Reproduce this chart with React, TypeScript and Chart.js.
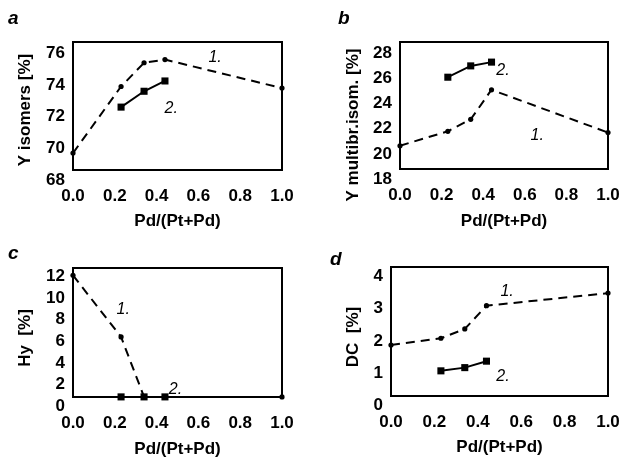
import React, { useEffect, useRef } from "react";
import { Chart, registerables } from "chart.js";

Chart.register(...registerables);

const FONT = "'Liberation Sans', Arial, Helvetica, sans-serif";

// shared x axis
const X_TICKS = [0, 0.2, 0.4, 0.6, 0.8, 1.0];
const X_TITLE = "Pd/(Pt+Pd)";

// panel a
const A_X1 = [0, 0.23, 0.34, 0.44, 1.0];
const A_Y1 = [69.7, 73.9, 75.4, 75.6, 73.8];
const A_X2 = [0.23, 0.34, 0.44];
const A_Y2 = [72.6, 73.6, 74.25];
const A_YTICKS = [68, 70, 72, 74, 76];
const A_YTITLE = "Y isomers [%]";
const A_LABELS = [
  { text: "1.", x: 0.68, y: 75.7 },
  { text: "2.", x: 0.47, y: 72.5 },
];

// panel b
const B_X1 = [0, 0.23, 0.34, 0.44, 1.0];
const B_Y1 = [20.65, 21.8, 22.75, 25.1, 21.7];
const B_X2 = [0.23, 0.34, 0.44];
const B_Y2 = [26.1, 27.0, 27.3];
const B_YTICKS = [18, 20, 22, 24, 26, 28];
const B_YTITLE = "Y multibr.isom. [%]";
const B_LABELS = [
  { text: "2.", x: 0.495, y: 26.6 },
  { text: "1.", x: 0.66, y: 21.5 },
];

// panel c
const C_X1 = [0, 0.23, 0.34, 1.0];
const C_Y1 = [12.1, 6.4, 0.85, 0.85];
const C_X2 = [0.23, 0.34, 0.44];
const C_Y2 = [0.85, 0.85, 0.85];
const C_YTICKS = [0, 2, 4, 6, 8, 10, 12];
const C_YTITLE = "Hy  [%]";
const C_LABELS = [
  { text: "1.", x: 0.24, y: 8.9 },
  { text: "2.", x: 0.49, y: 1.5 },
];

// panel d
const D_X1 = [0, 0.23, 0.34, 0.44, 1.0];
const D_Y1 = [1.87, 2.08, 2.37, 3.09, 3.48];
const D_X2 = [0.23, 0.34, 0.44];
const D_Y2 = [1.07, 1.17, 1.37];
const D_YTICKS = [0, 1, 2, 3, 4];
const D_YTITLE = "DC  [%]";
const D_LABELS = [
  { text: "1.", x: 0.535, y: 3.53 },
  { text: "2.", x: 0.516, y: 0.88 },
];

type Lbl = { text: string; x: number; y: number };
type Cfg = {
  letter: string;
  left: number; top: number; w: number; h: number;
  box: { left: number; top: number; right: number; bottom: number };
  yMin: number; yMax: number;
  yTicks: number[];
  yTitle: string;
  yTitlePos: { x: number; y: number };
  letterPos: { x: number; y: number };
  xTitlePad: number;
  x1: number[]; y1: number[]; x2: number[]; y2: number[];
  labels: Lbl[];
};

const PANELS: Cfg[] = [
  {
    letter: "a", left: 0, top: 0, w: 310, h: 240,
    box: { left: 73, top: 42, right: 282, bottom: 170 },
    yMin: 68.63, yMax: 76.71, yTicks: A_YTICKS, yTitle: A_YTITLE,
    yTitlePos: { x: 25, y: 110 }, letterPos: { x: 8, y: 24 }, xTitlePad: 8,
    x1: A_X1, y1: A_Y1, x2: A_X2, y2: A_Y2, labels: A_LABELS,
  },
  {
    letter: "b", left: 310, top: 0, w: 311, h: 240,
    box: { left: 90, top: 42, right: 298, bottom: 169 },
    yMin: 18.8, yMax: 28.9, yTicks: B_YTICKS, yTitle: B_YTITLE,
    yTitlePos: { x: 43, y: 125 }, letterPos: { x: 28, y: 24 }, xTitlePad: 8,
    x1: B_X1, y1: B_Y1, x2: B_X2, y2: B_Y2, labels: B_LABELS,
  },
  {
    letter: "c", left: 0, top: 240, w: 310, h: 220,
    box: { left: 73, top: 28, right: 282, bottom: 157 },
    yMin: 0.84, yMax: 12.78, yTicks: C_YTICKS, yTitle: C_YTITLE,
    yTitlePos: { x: 25, y: 98 }, letterPos: { x: 8, y: 19 }, xTitlePad: 0,
    x1: C_X1, y1: C_Y1, x2: C_X2, y2: C_Y2, labels: C_LABELS,
  },
  {
    letter: "d", left: 310, top: 240, w: 311, h: 220,
    box: { left: 81, top: 27, right: 298, bottom: 156 },
    yMin: 0.29, yMax: 4.29, yTicks: D_YTICKS, yTitle: D_YTITLE,
    yTitlePos: { x: 43, y: 97 }, letterPos: { x: 20, y: 25 }, xTitlePad: 2,
    x1: D_X1, y1: D_Y1, x2: D_X2, y2: D_Y2, labels: D_LABELS,
  },
];

function decoPlugin(c: Cfg) {
  return {
    id: "panelDeco",
    beforeDatasetsDraw(chart: any) {
      const { ctx, chartArea } = chart;
      ctx.save();
      ctx.strokeStyle = "#000";
      ctx.lineWidth = 2;
      ctx.strokeRect(
        chartArea.left,
        chartArea.top,
        chartArea.right - chartArea.left,
        chartArea.bottom - chartArea.top
      );
      ctx.restore();
    },
    afterDraw(chart: any) {
      const ctx = chart.ctx as CanvasRenderingContext2D;
      ctx.save();
      ctx.fillStyle = "#000";
      ctx.font = `italic bold 19px ${FONT}`;
      ctx.textAlign = "left";
      ctx.textBaseline = "alphabetic";
      ctx.fillText(c.letter, c.letterPos.x, c.letterPos.y);
      ctx.font = `bold 17px ${FONT}`;
      ctx.translate(c.yTitlePos.x, c.yTitlePos.y);
      ctx.rotate(-Math.PI / 2);
      ctx.textAlign = "center";
      ctx.textBaseline = "middle";
      ctx.fillText(c.yTitle, 0, 0);
      ctx.restore();

      ctx.save();
      ctx.fillStyle = "#000";
      ctx.font = `italic 16px ${FONT}`;
      ctx.textAlign = "center";
      ctx.textBaseline = "middle";
      const xs = chart.scales.x;
      const ys = chart.scales.y;
      for (const l of c.labels) {
        ctx.fillText(l.text, xs.getPixelForValue(l.x), ys.getPixelForValue(l.y));
      }
      ctx.restore();
    },
  };
}

function Panel({ c }: { c: Cfg }) {
  const ref = useRef<HTMLCanvasElement | null>(null);
  useEffect(() => {
    if (!ref.current) return;
    const tickFont = { family: FONT, size: 17, weight: "bold" as const };
    const chart = new Chart(ref.current, {
      type: "scatter",
      data: {
        datasets: [
          {
            data: c.x1.map((x, i) => ({ x, y: c.y1[i] })),
            showLine: true,
            borderColor: "#000",
            backgroundColor: "#000",
            borderWidth: 2,
            borderDash: [9, 6],
            pointStyle: "circle",
            pointRadius: 2.6,
            pointBorderWidth: 0,
            pointBackgroundColor: "#000",
            clip: false,
          } as any,
          {
            data: c.x2.map((x, i) => ({ x, y: c.y2[i] })),
            showLine: true,
            borderColor: "#000",
            backgroundColor: "#000",
            borderWidth: 2,
            pointStyle: "rect",
            pointRadius: 5,
            pointBorderWidth: 0,
            pointBackgroundColor: "#000",
            clip: false,
          } as any,
        ],
      },
      options: {
        responsive: false,
        animation: false,
        devicePixelRatio: 1,
        layout: {
          padding: { left: 0, top: c.box.top, right: c.w - c.box.right, bottom: 0 },
        },
        plugins: {
          legend: { display: false },
          tooltip: { enabled: false },
          title: { display: false },
        },
        scales: {
          x: {
            type: "linear",
            min: 0,
            max: 1,
            grid: { display: false, drawTicks: false },
            border: { display: false },
            afterBuildTicks: (s: any) => {
              s.ticks = X_TICKS.map((v) => ({ value: v }));
            },
            afterFit: (s: any) => {
              s.height = c.h - c.box.bottom;
              s.paddingLeft = 0;
              s.paddingRight = 0;
            },
            ticks: {
              padding: 16,
              color: "#000",
              font: tickFont,
              maxRotation: 0,
              autoSkip: false,
              callback: (v: any) => Number(v).toFixed(1),
            },
            title: {
              display: true,
              text: X_TITLE,
              color: "#000",
              font: tickFont,
              padding: { top: 0, bottom: c.xTitlePad },
            },
          },
          y: {
            type: "linear",
            min: c.yMin,
            max: c.yMax,
            grid: { display: false, drawTicks: false },
            border: { display: false },
            afterBuildTicks: (s: any) => {
              s.ticks = c.yTicks.map((v) => ({ value: v }));
            },
            afterFit: (s: any) => {
              s.width = c.box.left;
              s.paddingTop = 0;
              s.paddingBottom = 0;
            },
            ticks: {
              padding: 8,
              color: "#000",
              font: tickFont,
              autoSkip: false,
              callback: (v: any) => String(v),
            },
          },
        },
      } as any,
      plugins: [decoPlugin(c)],
    });
    return () => chart.destroy();
  }, [c]);
  return (
    <canvas
      ref={ref}
      width={c.w}
      height={c.h}
      style={{ position: "absolute", left: c.left, top: c.top, width: c.w, height: c.h }}
    />
  );
}

export default function App() {
  return (
    <div
      style={{
        position: "absolute",
        left: 0,
        top: 0,
        width: 621,
        height: 460,
        background: "#fff",
        overflow: "hidden",
      }}
    >
      {PANELS.map((c) => (
        <Panel key={c.letter} c={c} />
      ))}
    </div>
  );
}
